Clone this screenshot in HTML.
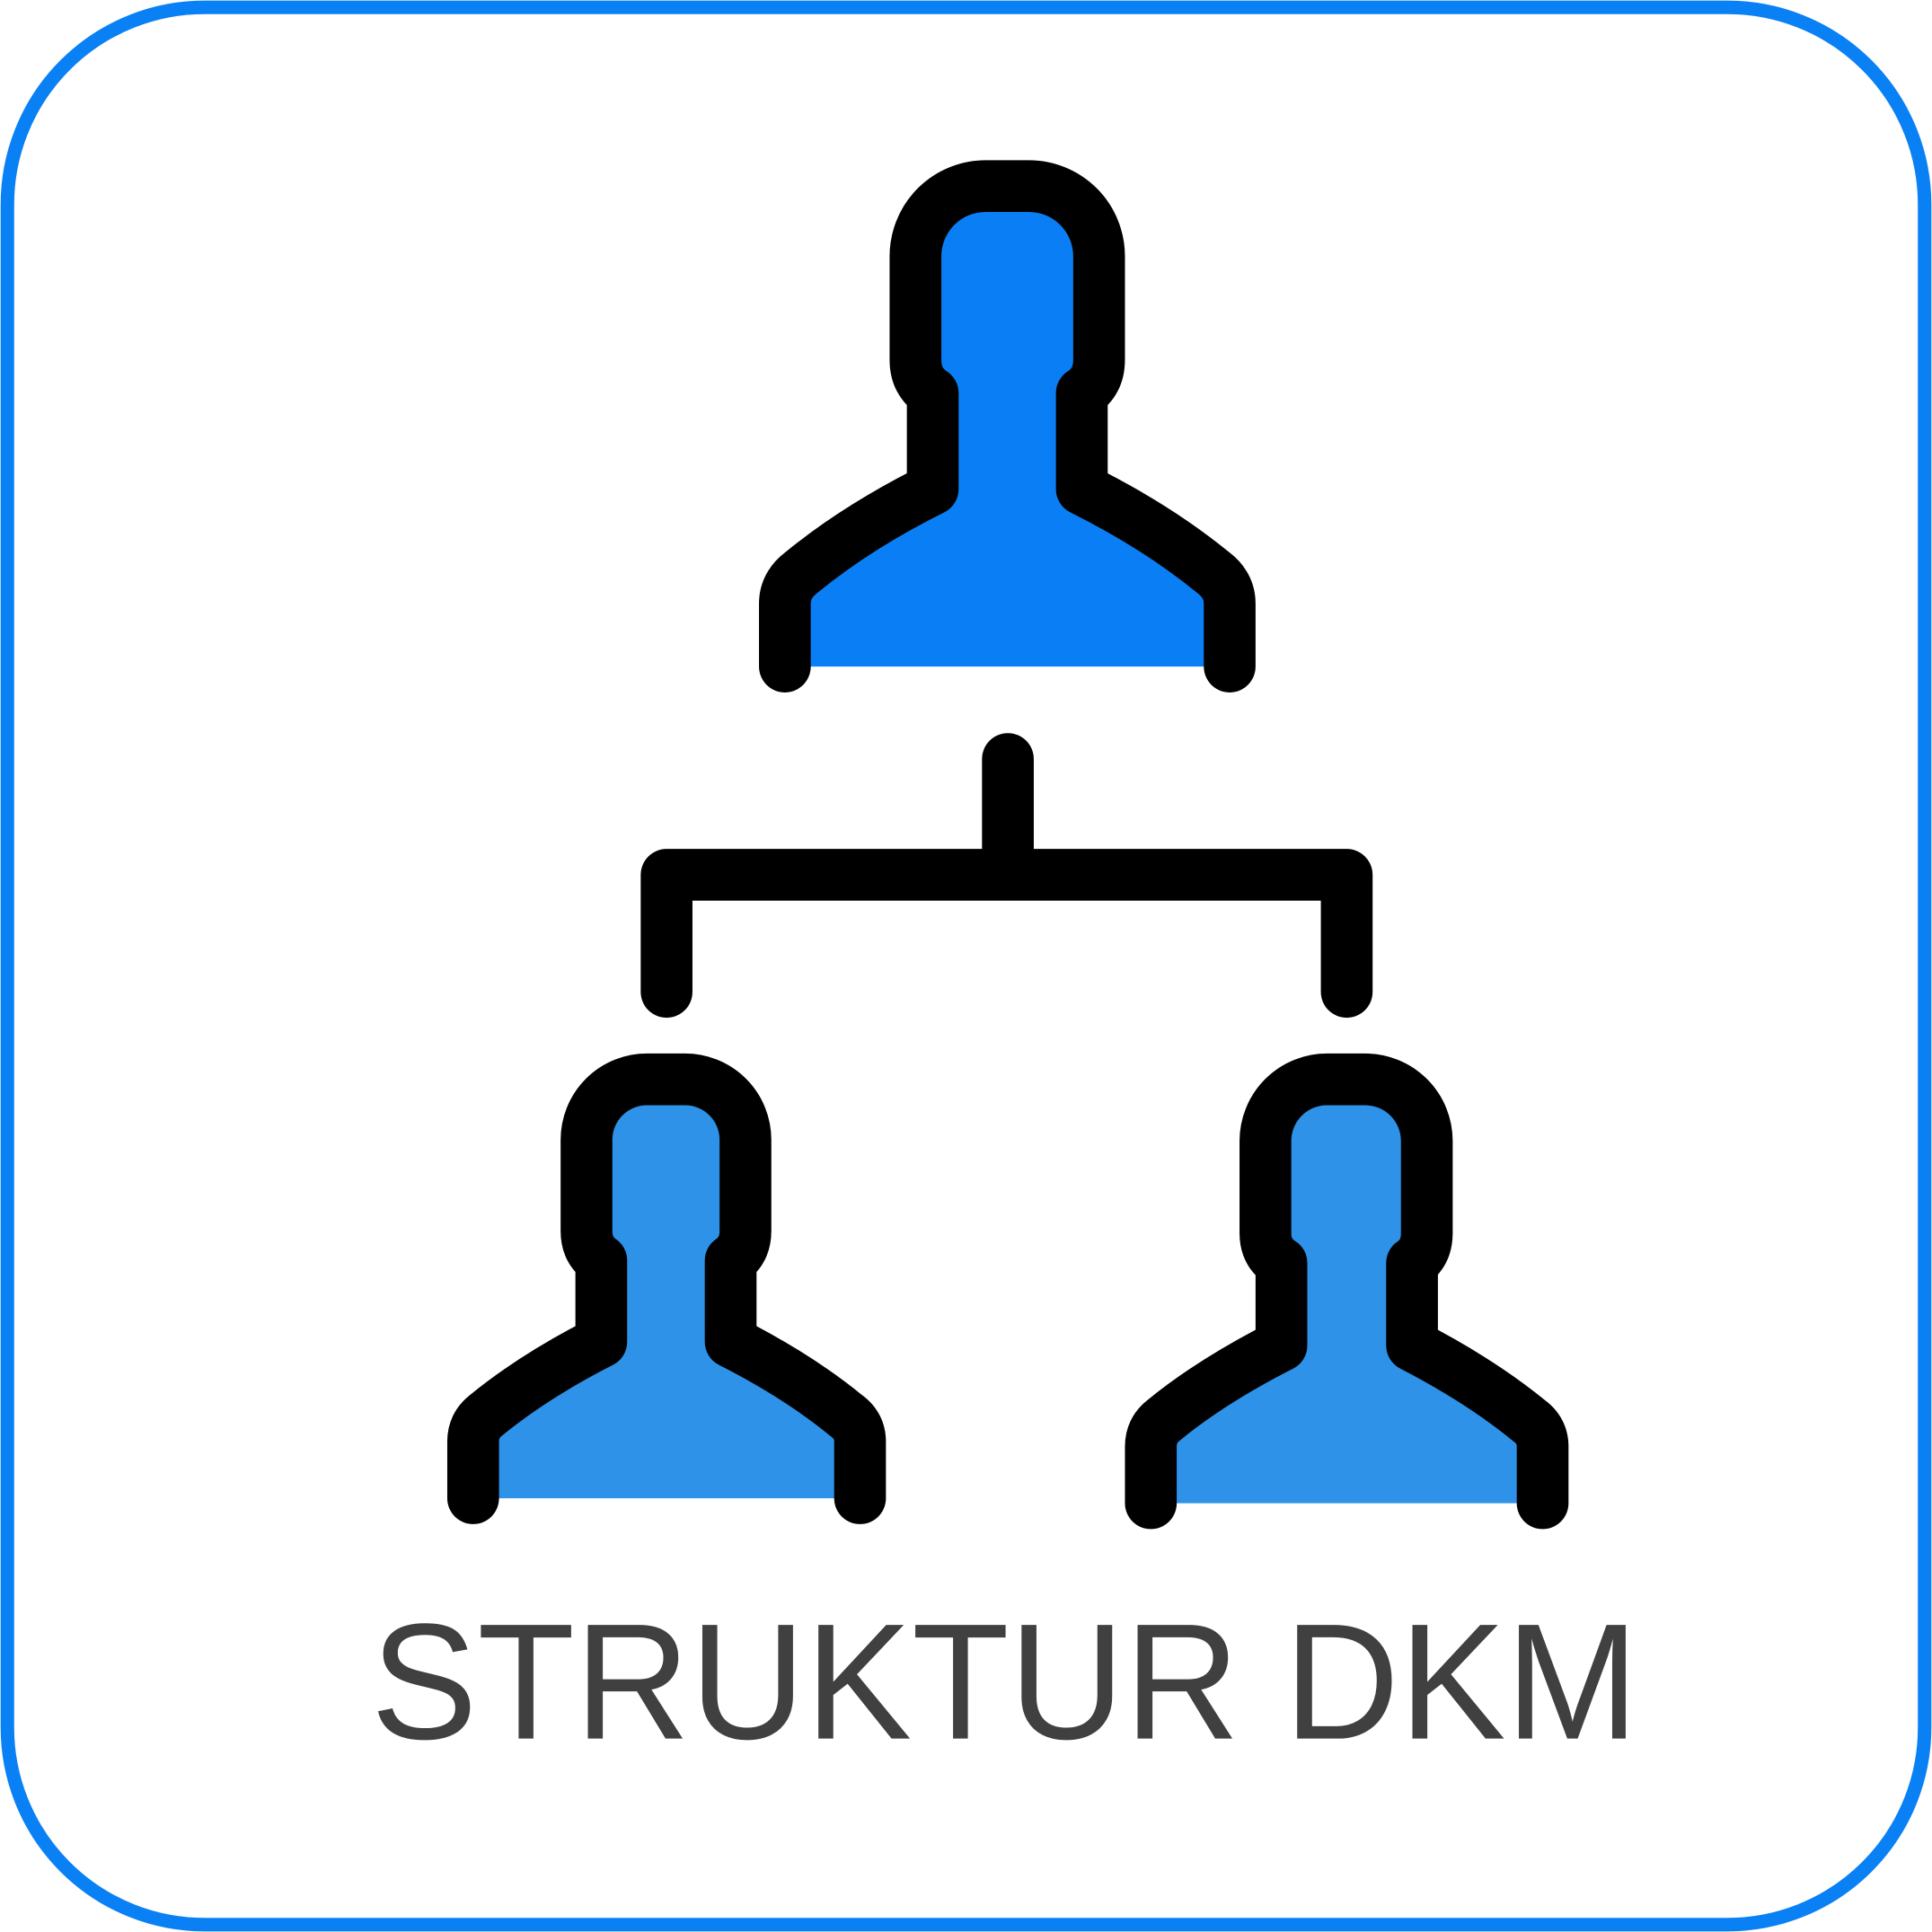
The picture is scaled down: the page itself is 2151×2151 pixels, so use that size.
<!DOCTYPE html>
<html><head><meta charset="utf-8"><style>html,body{margin:0;padding:0;background:#fff}svg{display:block}</style></head>
<body>
<svg width="2151" height="2151" viewBox="0 0 1568 1568" preserveAspectRatio="none" xmlns="http://www.w3.org/2000/svg">
<rect x="6" y="6" width="1556" height="1556" rx="160" ry="160" fill="#fff" stroke="#0a80f5" stroke-width="11"/>
<g stroke="#000" stroke-width="42" stroke-linecap="round" stroke-linejoin="round">
<path fill="#0a7ff5" d="M637,541 V490 Q637,475 650,465 Q695,428 757,397 V319 Q743,310 743,292 V208 A57,57 0 0 1 800,151 H835 A57,57 0 0 1 892,208 V292 Q892,310 878,319 V397 Q940,428 985,465 Q998,475 998,490 V541 Z" stroke="none"/>
<path fill="none" d="M637,541 V490 Q637,475 650,465 Q695,428 757,397 V319 Q743,310 743,292 V208 A57,57 0 0 1 800,151 H835 A57,57 0 0 1 892,208 V292 Q892,310 878,319 V397 Q940,428 985,465 Q998,475 998,490 V541"/>

<path fill="#2d92e8" stroke="none" d="M384,1216 V1170 Q384,1157 394,1149 Q433,1117 488,1089 V1023 Q476,1015 476,999 V925 A49,49 0 0 1 525,876 H556 A49,49 0 0 1 605,925 V999 Q605,1015 593,1023 V1089 Q648,1117 687,1149 Q698,1157 698,1170 V1216 Z"/>
<path fill="none" d="M384,1216 V1170 Q384,1157 394,1149 Q433,1117 488,1089 V1023 Q476,1015 476,999 V925 A49,49 0 0 1 525,876 H556 A49,49 0 0 1 605,925 V999 Q605,1015 593,1023 V1089 Q648,1117 687,1149 Q698,1157 698,1170 V1216"/>

<path fill="#2d92e8" stroke="none" d="M934,1220 V1174 Q934,1161 944,1153 Q983,1121 1040,1092 V1025 Q1027,1017 1027,1001 V926 A50,50 0 0 1 1077,876 H1108 A50,50 0 0 1 1158,926 V1001 Q1158,1017 1146,1025 V1092 Q1202,1121 1241,1153 Q1252,1161 1252,1174 V1220 Z"/>
<path fill="none" d="M934,1220 V1174 Q934,1161 944,1153 Q983,1121 1040,1092 V1025 Q1027,1017 1027,1001 V926 A50,50 0 0 1 1077,876 H1108 A50,50 0 0 1 1158,926 V1001 Q1158,1017 1146,1025 V1092 Q1202,1121 1241,1153 Q1252,1161 1252,1174 V1220"/>

<path fill="none" d="M818,616 V710 M541,805 V710 H1093 V805"/>
</g>
<text x="301" y="1411" font-family="Liberation Sans, sans-serif" font-size="134" fill="#404040" textLength="1029" lengthAdjust="spacingAndGlyphs">STRUKTUR DKM</text>
</svg>
</body></html>
